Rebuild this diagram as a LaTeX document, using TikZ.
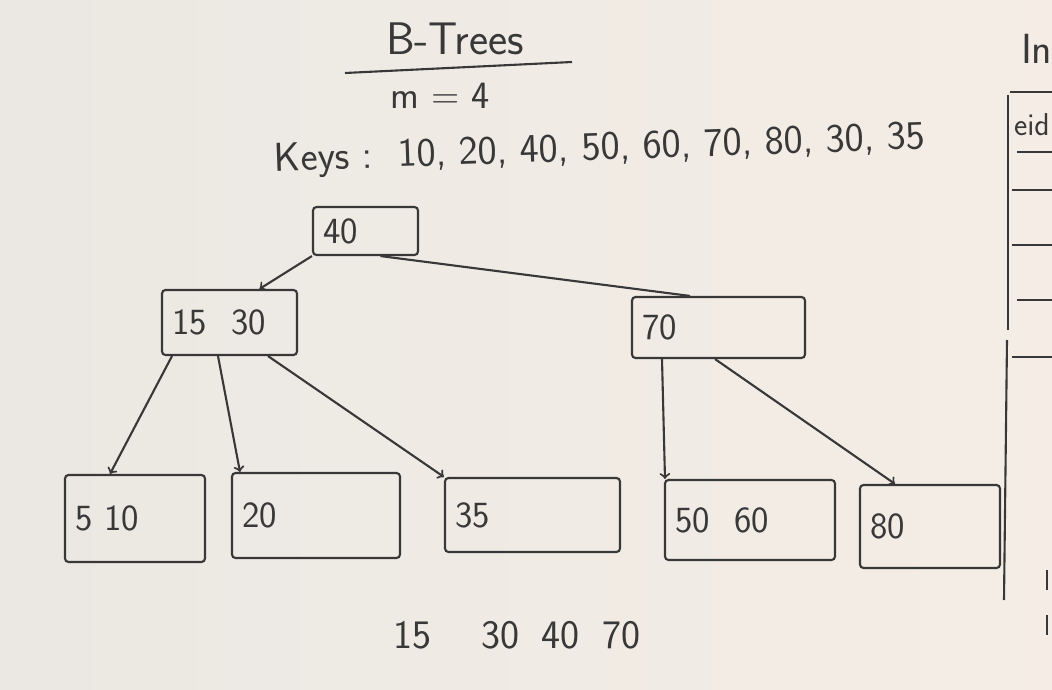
\documentclass[tikz,border=0pt]{standalone}
\usepackage{tikz}
\usepackage{color}
\definecolor{board}{rgb}{0.96, 0.93, 0.90}
\definecolor{boardleft}{rgb}{0.92, 0.91, 0.89}
\definecolor{marker}{rgb}{0.22, 0.22, 0.22}
\tikzstyle{keynode} = [rectangle,draw=marker,line width=1.2pt,rounded corners=2pt,align=left,inner xsep=0.2cm,text=marker,font=\sffamily\fontsize{21}{25}\selectfont]
\tikzstyle{scribble} = [text=marker,inner sep=0pt,font=\sffamily\fontsize{20}{24}\selectfont]

\begin{document}
\begin{tikzpicture}[color=marker,line width=1.2pt]
	\clip (0,0) rectangle (21.04,-13.8);
	\shade[left color=boardleft,right color=board] (0,0) rectangle (21.04,-13.8);

	% heading
	\node [scribble,font=\sffamily\fontsize{26}{30}\selectfont](title) at (9.1,-0.78){B-Trees};
	\draw (6.9,-1.46) -- (11.44,-1.24);
	\node [scribble,font=\sffamily\fontsize{22}{26}\selectfont](order) at (8.8,-1.92){m = 4};
	\node [scribble,rotate=2,font=\sffamily\fontsize{23}{27}\selectfont](keys) at (12.0,-3.0){Keys :\ \ 10, 20, 40, 50, 60, 70, 80, 30, 35};

	% tree
	\node [keynode,text width=1.7cm,minimum height=0.96cm](n40) at (7.31,-4.62){40};
	\node [keynode,below of=n40,xshift=-2.72cm,yshift=-0.83cm,text width=2.3cm,minimum height=1.3cm](n1530){15\ \ 30};
	\node [keynode,below of=n40,xshift=7.06cm,yshift=-0.93cm,text width=3.06cm,minimum height=1.22cm](n70){70};
	\node [keynode,below of=n1530,xshift=-1.89cm,yshift=-2.92cm,text width=2.4cm,minimum height=1.74cm](n510){5 10};
	\node [keynode,below of=n1530,xshift=1.73cm,yshift=-2.86cm,text width=2.96cm,minimum height=1.7cm](n20){20};
	\node [keynode,below of=n1530,xshift=6.06cm,yshift=-2.85cm,text width=3.1cm,minimum height=1.48cm](n35){35};
	\node [keynode,below of=n70,xshift=0.63cm,yshift=-2.85cm,text width=3.0cm,minimum height=1.6cm](n5060){50\ \ 60};
	\node [keynode,below of=n70,xshift=4.23cm,yshift=-2.98cm,text width=2.4cm,minimum height=1.66cm](n80){80};

	\draw[->](n40.south west)--([xshift=0.6cm]n1530.north);
	\draw[-]([xshift=0.3cm]n40.south)--([xshift=-0.57cm]n70.north);
	\draw[->]([xshift=-1.15cm]n1530.south)--([xshift=-0.5cm]n510.north);
	\draw[->]([xshift=-0.23cm]n1530.south)--([xshift=-1.52cm]n20.north);
	\draw[->]([xshift=0.77cm]n1530.south)--(n35.north west);
	\draw[->]([xshift=-1.13cm]n70.south)--([xshift=-1.7cm]n5060.north);
	\draw[->]([xshift=-0.07cm]n70.south)--([xshift=-0.7cm]n80.north);

	\node [scribble,font=\sffamily\fontsize{23}{27}\selectfont](inorder) at (10.34,-12.7){15\hspace{1.0cm}30\hspace{0.45cm}40\hspace{0.45cm}70};

	% side table
	\node [scribble,anchor=west,font=\sffamily\fontsize{24}{28}\selectfont](side) at (20.4,-0.98){In};
	\node [scribble,anchor=west,font=\sffamily\fontsize{18}{21}\selectfont](eid) at (20.26,-2.5){eid};
	\draw (20.2,-1.84) -- (21.04,-1.84);
	\draw (20.16,-1.9) -- (20.16,-6.6);
	\draw (20.34,-3.04) -- (21.04,-3.04);
	\draw (20.24,-3.8) -- (21.04,-3.8);
	\draw (20.24,-4.9) -- (21.04,-4.9);
	\draw (20.34,-6.0) -- (21.04,-6.0);
	\draw (20.24,-7.14) -- (21.04,-7.14);
	\draw (20.14,-6.8) -- (20.08,-12.0);
	\draw (20.94,-11.4) -- (20.94,-11.8);
	\draw (20.94,-12.3) -- (20.94,-12.7);
\end{tikzpicture}
\end{document}
